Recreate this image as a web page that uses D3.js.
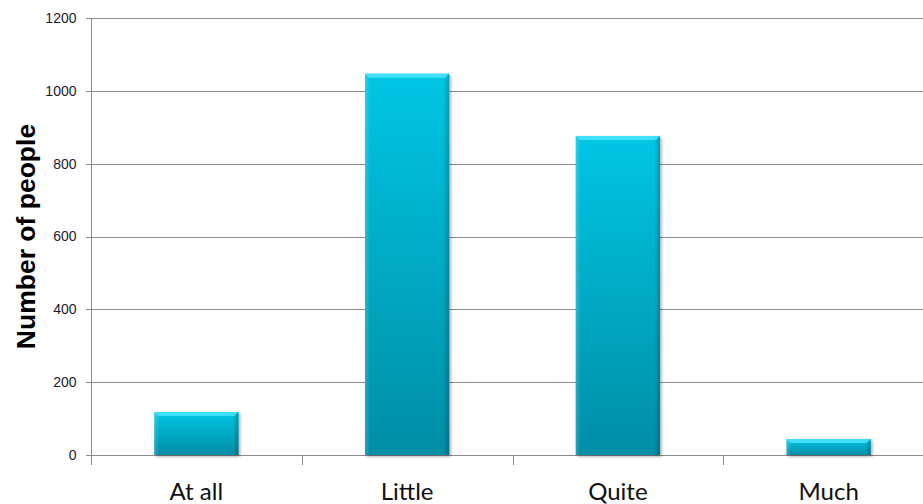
<!DOCTYPE html>
<html>
<head>
<meta charset="utf-8">
<script src="https://cdn.jsdelivr.net/npm/d3@7"></script>
<style>
  html, body { margin: 0; padding: 0; background: #fff; }
  svg { display: block; }
</style>
</head>
<body>
<svg id="chart" width="923" height="504"></svg>
<script>
// Survey answers and how many people gave each
const categories = ["At all", "Little", "Quite", "Much"];
const counts = [118, 1047, 876, 44];
const yTicks = [0, 200, 400, 600, 800, 1000, 1200];

const svg = d3.select("#chart");
const margin = { left: 91, top: 18, bottom: 49 };
const plotRight = 934;
const height = 504;

const x = d3.scaleBand()
  .domain(categories)
  .range([margin.left, plotRight])
  .paddingInner(0.6)
  .paddingOuter(0.3);

const y = d3.scaleLinear()
  .domain([0, 1200])
  .range([height - margin.bottom, margin.top]);

// Gradients and shadow for the bevelled bars
const defs = svg.append("defs");
const body = defs.append("linearGradient").attr("id", "barBody")
  .attr("x1", 0).attr("y1", 0).attr("x2", 0).attr("y2", 1);
body.append("stop").attr("offset", "0%").attr("stop-color", "#00c6e4");
body.append("stop").attr("offset", "100%").attr("stop-color", "#068ea6");

const side = defs.append("linearGradient").attr("id", "barSide")
  .attr("x1", 0).attr("y1", 0).attr("x2", 1).attr("y2", 0);
side.append("stop").attr("offset", "0%").attr("stop-color", "#ffffff").attr("stop-opacity", 0.18);
side.append("stop").attr("offset", "6%").attr("stop-color", "#ffffff").attr("stop-opacity", 0);
side.append("stop").attr("offset", "93%").attr("stop-color", "#000000").attr("stop-opacity", 0);
side.append("stop").attr("offset", "100%").attr("stop-color", "#000000").attr("stop-opacity", 0.22);

const shadow = defs.append("filter").attr("id", "shadow")
  .attr("x", "-10%").attr("y", "-10%").attr("width", "130%").attr("height", "130%");
shadow.append("feDropShadow").attr("dx", 1.5).attr("dy", 1.5)
  .attr("stdDeviation", 1.5).attr("flood-color", "#000").attr("flood-opacity", 0.35);

// Horizontal gridlines
svg.append("g")
  .selectAll("line")
  .data(yTicks)
  .join("line")
  .attr("x1", margin.left - 5)
  .attr("x2", 923)
  .attr("y1", d => Math.round(y(d)) + 0.5)
  .attr("y2", d => Math.round(y(d)) + 0.5)
  .attr("stroke", "#8c8c8c")
  .attr("stroke-width", 1);

// Y axis
const yAxis = svg.append("g")
  .attr("transform", `translate(${margin.left + 0.5},0)`)
  .attr("font-size", 14)
  .call(d3.axisLeft(y).tickValues(yTicks).tickSize(0).tickPadding(15).tickFormat(d3.format("d")));
yAxis.select(".domain").attr("stroke", "#8c8c8c").attr("d",
  `M0,${margin.top}V${height - margin.bottom + 6}`);
yAxis.attr("font-size", 14).attr("font-family", "'Liberation Sans', Arial, sans-serif");
yAxis.selectAll("text")
  .style("font-size", "14px")
  .style("font-family", "'Liberation Sans', Arial, sans-serif")
  .attr("fill", "#1a1a2e");

// Category separators along the bottom
const step = (plotRight - margin.left) / categories.length;
svg.append("g")
  .selectAll("line")
  .data(d3.range(categories.length + 1))
  .join("line")
  .attr("x1", i => Math.round(margin.left + i * step) + 0.5)
  .attr("x2", i => Math.round(margin.left + i * step) + 0.5)
  .attr("y1", y(0))
  .attr("y2", y(0) + 10)
  .attr("stroke", "#8c8c8c");

// Bars
const bars = svg.append("g")
  .selectAll("g")
  .data(categories.map((c, i) => ({ c, v: counts[i] })))
  .join("g");

bars.append("rect")
  .attr("x", d => x(d.c))
  .attr("y", d => y(d.v))
  .attr("width", x.bandwidth())
  .attr("height", d => y(0) - y(d.v))
  .attr("fill", "url(#barBody)")
  .attr("filter", "url(#shadow)");

bars.append("rect")
  .attr("x", d => x(d.c))
  .attr("y", d => y(d.v))
  .attr("width", x.bandwidth())
  .attr("height", d => y(0) - y(d.v))
  .attr("fill", "url(#barSide)");

// Bright bevel along the top edge
bars.append("path")
  .attr("d", d => {
    const x0 = x(d.c), x1 = x0 + x.bandwidth(), t = y(d.v);
    const b = Math.min(4, (y(0) - t) / 3);
    return `M${x0},${t}H${x1}L${x1 - b},${t + b}H${x0 + b}Z`;
  })
  .attr("fill", "#4fe6ff")
  .attr("opacity", 0.8);

// Category labels
svg.append("g")
  .selectAll("text")
  .data(categories)
  .join("text")
  .attr("x", d => x(d) + x.bandwidth() / 2)
  .attr("y", 500)
  .attr("text-anchor", "middle")
  .style("font-family", "Lato, 'Open Sans', sans-serif")
  .style("font-size", "24px")
  .attr("fill", "#111")
  .text(d => d);

// Y axis title
svg.append("text")
  .attr("transform", `translate(35,${(margin.top + height - margin.bottom) / 2}) rotate(-90)`)
  .attr("text-anchor", "middle")
  .style("font-family", "'Liberation Sans', Arial, sans-serif")
  .style("font-weight", "bold")
  .style("font-size", "26.5px")
  .attr("fill", "#000")
  .text("Number of people");
</script>
</body>
</html>
